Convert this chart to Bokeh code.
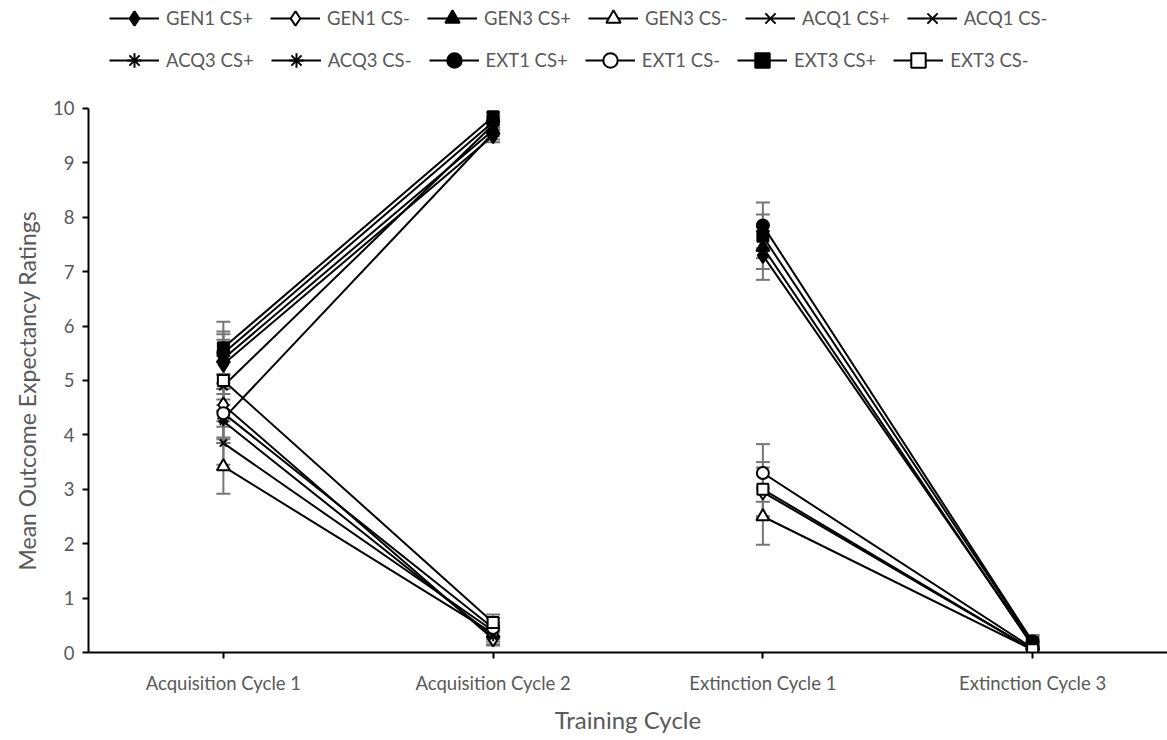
from bokeh.plotting import figure
from bokeh.models import (ColumnDataSource, Range1d, FactorRange, FixedTicker,
                          Whisker, TeeHead, Legend, LegendItem, Title)
from bokeh.embed import file_html
from bokeh.resources import INLINE

categories = ["Acquisition Cycle 1", "Acquisition Cycle 2", "Extinction Cycle 1", "Extinction Cycle 3"]

series_names = ["GEN1 CS+", "GEN1 CS-", "GEN3 CS+", "GEN3 CS-", "ACQ1 CS+", "ACQ1 CS-",
                "ACQ3 CS+", "ACQ3 CS-", "EXT1 CS+", "EXT1 CS-", "EXT3 CS+", "EXT3 CS-"]

gen1_csp = [5.30, 9.50, 7.30, 0.15]
gen1_csm = [4.55, 0.25, 2.95, 0.05]
gen3_csp = [5.40, 9.60, 7.45, 0.12]
gen3_csm = [3.42, 0.35, 2.50, 0.05]
acq1_csp = [4.90, 9.70, None, None]
acq1_csm = [3.85, 0.40, None, None]
acq3_csp = [4.30, 9.55, None, None]
acq3_csm = [4.25, 0.30, None, None]
ext1_csp = [5.50, 9.75, 7.85, 0.20]
ext1_csm = [4.40, 0.45, 3.30, 0.08]
ext3_csp = [5.60, 9.85, 7.65, 0.18]
ext3_csm = [5.00, 0.55, 3.00, 0.05]

gen1_csp_err = [0.45, 0.12, 0.45, 0.10]
gen1_csm_err = [0.40, 0.12, 0.45, 0.06]
gen3_csp_err = [0.45, 0.10, 0.40, 0.08]
gen3_csm_err = [0.50, 0.15, 0.52, 0.08]
acq1_csp_err = [0.45, 0.10, None, None]
acq1_csm_err = [0.40, 0.15, None, None]
acq3_csp_err = [0.45, 0.12, None, None]
acq3_csm_err = [0.40, 0.15, None, None]
ext1_csp_err = [0.40, 0.10, 0.42, 0.12]
ext1_csm_err = [0.45, 0.18, 0.53, 0.10]
ext3_csp_err = [0.48, 0.08, 0.40, 0.12]
ext3_csm_err = [0.45, 0.15, 0.50, 0.08]

values = [gen1_csp, gen1_csm, gen3_csp, gen3_csm, acq1_csp, acq1_csm,
          acq3_csp, acq3_csm, ext1_csp, ext1_csm, ext3_csp, ext3_csm]
errors = [gen1_csp_err, gen1_csm_err, gen3_csp_err, gen3_csm_err, acq1_csp_err, acq1_csm_err,
          acq3_csp_err, acq3_csm_err, ext1_csp_err, ext1_csm_err, ext3_csp_err, ext3_csm_err]

# marker styles: (marker, filled, size)
styles = [("diamond", True, 15), ("diamond", False, 15),
          ("triangle", True, 13), ("triangle", False, 13),
          ("x", True, 12), ("x", True, 10),
          ("asterisk", True, 12), ("asterisk", True, 10),
          ("circle", True, 12), ("circle", False, 12),
          ("square", True, 11), ("square", False, 11)]

FONT = "Lato"
GRAY = "#595959"
ERR = "#767676"

p = figure(width=1167, height=740,
           x_range=FactorRange(*categories, range_padding=0),
           y_range=Range1d(0, 11.985),
           output_backend="svg", toolbar_location=None,
           min_border_left=87, min_border_right=0, min_border_top=0, min_border_bottom=88)
p.outline_line_color = None
p.xgrid.grid_line_color = None
p.ygrid.grid_line_color = None

p.yaxis.ticker = FixedTicker(ticks=list(range(11)))
p.yaxis.bounds = (0, 10)
for ax in (p.xaxis[0], p.yaxis[0]):
    ax.axis_line_color = "black"
    ax.axis_line_width = 2
    ax.major_tick_line_color = "black"
    ax.major_tick_line_width = 2
    ax.major_tick_out = 6
    ax.major_tick_in = 0
    ax.minor_tick_line_color = None
    ax.major_label_text_font = FONT
    ax.major_label_text_font_size = "18.5px"
    ax.major_label_text_color = GRAY
    ax.axis_label_text_font = FONT
    ax.axis_label_text_font_size = "24px"
    ax.axis_label_text_font_style = "normal"
    ax.axis_label_text_color = GRAY
p.xaxis.major_label_standoff = 13
p.xaxis.axis_label = "Training Cycle"
p.xaxis.axis_label_standoff = 8
p.yaxis.major_label_standoff = 8

# y-axis title centred on the 0..10 span of the axis
ytitle = Title(text="Mean Outcome Expectancy Ratings", align="left", offset=82,
               text_font=FONT, text_font_size="23px", text_font_style="normal",
               text_color=GRAY, standoff=20)
p.add_layout(ytitle, "left")

# error bars
for vals, errs in zip(values, errors):
    xs, up, lo = [], [], []
    for c, v, e in zip(categories, vals, errs):
        if v is None:
            continue
        xs.append(c)
        up.append(v + e)
        lo.append(v - e)
    src = ColumnDataSource(dict(x=xs, upper=up, lower=lo))
    w = Whisker(base="x", upper="upper", lower="lower", source=src, dimension="height",
                line_color=ERR, line_width=2,
                upper_head=TeeHead(size=14, line_color=ERR, line_width=2),
                lower_head=TeeHead(size=14, line_color=ERR, line_width=2))
    p.add_layout(w)

items = []
for name, vals, (mk, filled, size) in zip(series_names, values, styles):
    first_line = None
    for a, b in ((0, 1), (2, 3)):
        if vals[a] is None or vals[b] is None:
            continue
        r = p.line(x=[categories[a], categories[b]], y=[vals[a], vals[b]],
                   line_color="black", line_width=2)
        if first_line is None:
            first_line = r
    xs = [c for c, v in zip(categories, vals) if v is not None]
    ys = [v for v in vals if v is not None]
    m = p.scatter(x=xs, y=ys, marker=mk, size=size,
                  fill_color="black" if filled else "white",
                  line_color="black", line_width=2)
    items.append(LegendItem(label=name, renderers=[first_line, m]))

FRAME_H = 652

def make_legend(its, y_from_bottom):
    lg = Legend(items=its, orientation="horizontal", location=(108 - 87, y_from_bottom),
                glyph_width=50, glyph_height=36, label_height=36, label_standoff=7,
                spacing=17, padding=0, margin=0, border_line_color=None,
                background_fill_alpha=0, label_text_font=FONT,
                label_text_font_size="18.5px", label_text_color=GRAY)
    return lg

p.add_layout(make_legend(items[:6], FRAME_H - 36))
p.add_layout(make_legend(items[6:], FRAME_H - 78))

open("out.html", "w").write(file_html(p, INLINE))
